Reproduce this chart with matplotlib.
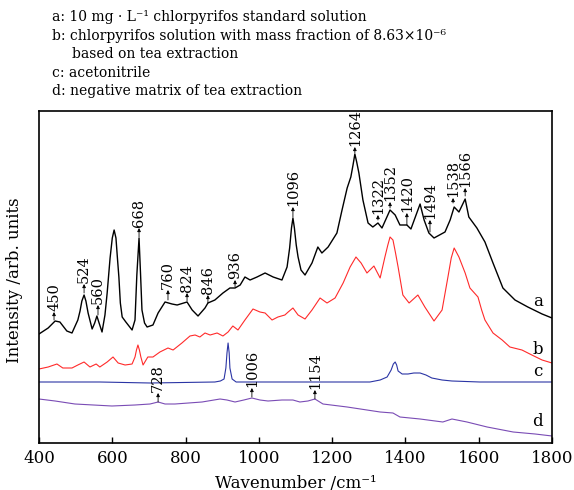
import matplotlib
matplotlib.use("Agg")
import matplotlib.pyplot as plt

plt.rcParams['font.family'] = ['DejaVu Serif']

# ---- spectrum a: 10 mg/L chlorpyrifos standard ----
wn_a = [400, 425, 444, 457, 476, 490, 506, 512, 517, 523, 528, 534, 545, 552, 558,
        564, 572, 580, 586, 594, 600, 605, 610, 614, 618, 622, 627, 637, 654, 662,
        667, 673, 677, 681, 688, 695, 711, 725, 744, 763, 777, 804, 818, 834,
        853, 861, 880, 902, 921, 935, 949, 962, 976, 995, 1017, 1039, 1063, 1077,
        1084, 1089, 1093, 1097, 1102, 1107, 1115, 1126, 1145, 1161, 1172, 1189,
        1213, 1227, 1241, 1251, 1257, 1262, 1267, 1273, 1284, 1298, 1311, 1325,
        1336, 1347, 1358, 1372, 1385, 1404, 1415, 1429, 1440, 1451, 1464, 1478,
        1508, 1522, 1533, 1546, 1563, 1573, 1595, 1617, 1639, 1666, 1699, 1734,
        1773, 1800]
int_a = [109, 115, 122, 121, 112, 110, 123, 132, 142, 148, 142, 130, 114, 120, 127,
         120, 111, 128, 150, 185, 205, 213, 205, 185, 166, 140, 126, 121, 113, 123,
         168, 205, 170, 133, 120, 116, 118, 130, 141, 139, 138, 141, 133, 127,
         135, 140, 143, 150, 155, 155, 158, 166, 163, 166, 170, 166, 163, 176,
         195, 215, 225, 215, 198, 186, 173, 168, 180, 196, 190, 196,
         210, 233, 255, 266, 278, 289, 281, 270, 243, 220, 216, 220,
         215, 224, 233, 228, 218, 218, 214, 228, 239, 223, 210, 205,
         211, 223, 236, 231, 244, 226, 215, 201, 180, 155, 143, 136,
         129, 125]

# ---- spectrum b: tea extract spiked with chlorpyrifos ----
wn_b = [400, 425, 449, 465, 490, 506, 523, 539, 556, 566, 586, 602, 616, 635, 654,
        662, 666, 670, 674, 678, 684, 697, 711, 730, 752, 766, 790, 812, 826, 839,
        853, 867, 886, 902, 916, 929, 943, 962, 984, 1003, 1017, 1036, 1052, 1071,
        1080, 1093, 1107, 1126, 1145, 1167, 1186, 1208, 1230, 1249, 1265, 1279,
        1295, 1314, 1331, 1344, 1352, 1358, 1366, 1373, 1380, 1393, 1410, 1434,
        1453, 1478, 1500, 1516, 1525, 1533, 1546, 1563, 1576, 1598, 1608, 1617,
        1639, 1664, 1685, 1718, 1745, 1773, 1800]
int_b = [74, 76, 79, 75, 75, 78, 81, 76, 79, 76, 81, 86, 80, 78, 79,
         86, 93, 98, 93, 86, 78, 86, 86, 91, 95, 93, 100, 107, 108, 106,
         110, 108, 110, 107, 111, 117, 113, 123, 134, 131, 130, 123, 126, 128,
         131, 135, 128, 124, 133, 145, 140, 145, 160, 176, 186, 180,
         170, 177, 165, 186, 198, 206, 203, 190, 176, 148, 140, 148,
         136, 122, 133, 166, 185, 195, 186, 170, 155, 146, 133, 123,
         110, 103, 96, 93, 88, 83, 80]

# ---- spectrum c: acetonitrile ----
wn_c = [400, 566, 703, 880, 895, 905, 910, 913, 916, 919, 921, 927, 938, 1112,
        1303, 1331, 1350, 1361, 1367, 1372, 1376, 1380, 1391, 1407, 1423, 1440,
        1456, 1472, 1500, 1527, 1603, 1800]
int_c = [61, 61, 60, 61, 62, 64, 75, 90, 100, 90, 75, 64, 61, 61,
         61, 63, 66, 73, 79, 81, 78, 72, 69, 69, 70, 70,
         68, 65, 63, 62, 61, 61]

# ---- spectrum d: negative tea matrix ----
wn_d = [400, 444, 498, 599, 662, 703, 725, 744, 771, 845, 894, 913, 935, 959, 981,
        1003, 1025, 1063, 1093, 1112, 1134, 1153, 1175, 1241, 1331, 1366, 1385,
        1440, 1502, 1527, 1568, 1623, 1694, 1754, 1800]
int_d = [44, 42, 39, 37, 38, 39, 41, 39, 39, 41, 44, 43, 41, 43, 45,
         43, 42, 43, 43, 41, 42, 44, 39, 36, 31, 30, 26,
         24, 21, 24, 21, 16, 11, 9, 7]

# peak marks: label, position, curve height, arrow tip height
peak_labels = ['450', '524', '560', '668', '760', '824', '846', '936', '1096',
               '1264', '1322', '1352', '1420', '1494', '1538', '1566',
               '728', '1006', '1154']
peak_wn = [441, 523, 561, 673, 752, 804, 861, 935, 1093,
           1262, 1325, 1358, 1404, 1467, 1530, 1563,
           725, 981, 1153]
peak_base = [123, 150, 128, 206, 143, 142, 140, 156, 226,
             290, 223, 235, 218, 211, 240, 247,
             41, 46, 44]
peak_tip = [131, 159, 138, 215, 153, 150, 148, 163, 236,
            296, 228, 241, 230, 223, 245, 255,
            50, 55, 53]

legend_lines = ['a: 10 mg \u00b7 L\u207b\u00b9 chlorpyrifos standard solution',
                'b: chlorpyrifos solution with mass fraction of 8.63\u00d710\u207b\u2076',
                'based on tea extraction',
                'c: acetonitrile',
                'd: negative matrix of tea extraction']

fig = plt.figure(figsize=(5.74, 4.90), dpi=100)
ax = fig.add_axes([39/574, 47/490, 513/574, 332/490])

ax.plot(wn_a, int_a, color='black', lw=1.0, solid_joinstyle='round')
ax.plot(wn_b, int_b, color='#ff2a2a', lw=0.8, solid_joinstyle='round')
ax.plot(wn_c, int_c, color='#2b35a5', lw=0.8, solid_joinstyle='round')
ax.plot(wn_d, int_d, color='#7a4cb5', lw=0.8, solid_joinstyle='round')

for lab, x, b, t in zip(peak_labels, peak_wn, peak_base, peak_tip):
    ax.annotate('', xy=(x, t), xytext=(x, b),
                arrowprops=dict(arrowstyle='-|>', color='black', lw=0.6,
                                mutation_scale=5, shrinkA=0, shrinkB=0))
    ax.text(x, t + 1, lab, rotation=90, ha='center', va='bottom', fontsize=10.5)

for lab, y in zip(['a', 'b', 'c', 'd'], [141, 93, 71, 22]):
    ax.text(1761, y, lab, ha='center', va='center', fontsize=12)

ax.set_xlim(400, 1800)
ax.set_ylim(0, 332)
ax.set_xticks([400, 600, 800, 1000, 1200, 1400, 1600, 1800])
ax.set_yticks([])
ax.tick_params(axis='x', direction='in', length=4, width=1, labelsize=12, pad=5)
for s in ax.spines.values():
    s.set_linewidth(1.2)

fig.text(15/574, 1 - 280/490, 'Intensity /arb. units', rotation=90,
         ha='center', va='center', fontsize=12)
fig.text(296/574, 1 - 483/490, 'Wavenumber /cm\u207b\u00b9', ha='center',
         va='center', fontsize=12)

line_y = [17, 36, 54, 73, 91]
line_x = [52, 52, 72, 52, 52]
for txt, x, y in zip(legend_lines, line_x, line_y):
    fig.text(x/574, 1 - y/490, txt, ha='left', va='center', fontsize=10)

fig.savefig('out.png', dpi=100)
